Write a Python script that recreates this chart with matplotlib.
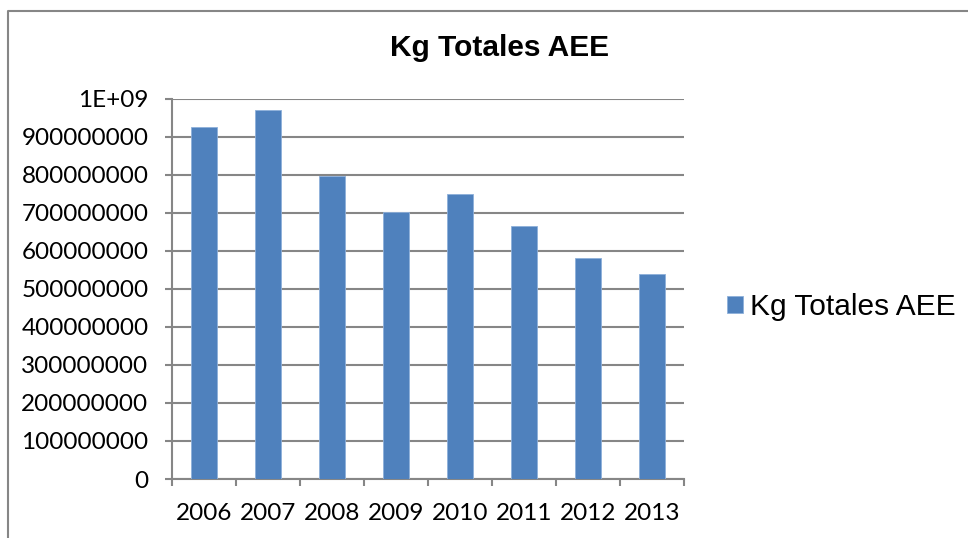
import matplotlib.pyplot as plt
from matplotlib.lines import Line2D

# datos
years = ["2006", "2007", "2008", "2009", "2010", "2011", "2012", "2013"]
kg = [925000000, 971000000, 796000000, 703000000, 749000000, 664000000, 582000000, 540000000]
y_ticks = [0, 100000000, 200000000, 300000000, 400000000, 500000000,
           600000000, 700000000, 800000000, 900000000, 1000000000]
y_labels = ["0", "100000000", "200000000", "300000000", "400000000", "500000000",
            "600000000", "700000000", "800000000", "900000000", "1E+09"]

W, H = 968, 538
grey = "#868686"
blue = "#4F81BD"

fig = plt.figure(figsize=(W / 100, H / 100), dpi=100)
ax = fig.add_axes([172 / W, 1 - 479 / H, 512 / W, (479 - 98.5) / H])

x = range(len(years))
bars = ax.bar(x, kg, width=0.4, color=blue, edgecolor="#8EB0DA", linewidth=0.6,
              label="Kg Totales AEE", zorder=3)

ax.set_xlim(-0.5, len(years) - 0.5)
ax.set_ylim(0, 1000000000)
ax.set_yticks(y_ticks)
ax.set_yticklabels(y_labels)
ax.set_xticks([i - 0.5 for i in range(len(years) + 1)])
ax.set_xticklabels([])
ax.set_xticks(list(x), minor=True)
ax.set_xticklabels(years, minor=True)

ax.grid(axis="y", color=grey, linewidth=1.5, zorder=0)
for s in ["top", "right"]:
    ax.spines[s].set_visible(False)
for s in ["left", "bottom"]:
    ax.spines[s].set_color(grey)
    ax.spines[s].set_linewidth(1.5)

ax.tick_params(axis="y", which="major", length=5, width=1.5, color=grey, pad=12,
               labelsize=17.5)
ax.tick_params(axis="x", which="major", length=5, width=1.5, color=grey)
ax.tick_params(axis="x", which="minor", length=0, pad=17, labelsize=17.5)
for lab in ax.get_yticklabels() + ax.get_xticklabels(minor=True):
    lab.set_fontfamily("Lato")

fig.text(499 / W, 1 - 48 / H, "Kg Totales AEE", ha="center", va="center",
         fontsize=21.5, fontweight="bold", family="Liberation Sans")

fig.legend(handles=[bars], loc="center left", bbox_to_anchor=(727 / W, 1 - 307 / H),
           frameon=False, borderpad=0, borderaxespad=0, handlelength=0.52,
           handleheight=0.52, handletextpad=0.25,
           prop={"family": "Liberation Sans", "size": 21.5})

# marco del area del grafico (solo se ven borde izquierdo y superior)
fig.add_artist(Line2D([8 / W, 8 / W, 1.0], [0, 1 - 11 / H, 1 - 11 / H],
                      transform=fig.transFigure, color=grey, linewidth=1.5))

fig.savefig("out.png", dpi=100)
